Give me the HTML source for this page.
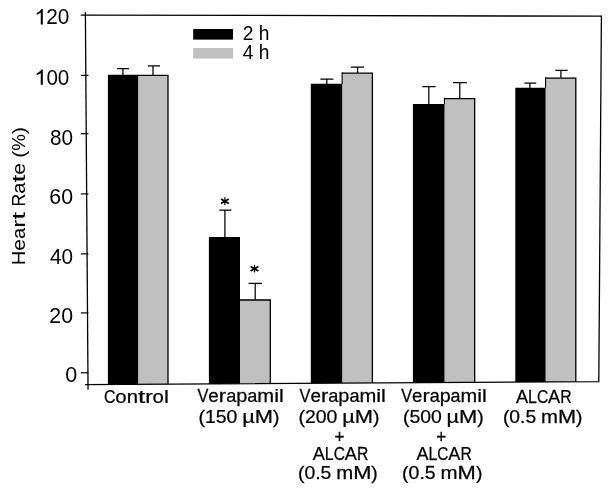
<!DOCTYPE html><html><head><meta charset="utf-8"><style>html,body{margin:0;padding:0;background:#fff;}svg{display:block;filter:grayscale(1)}text{font-family:"Liberation Sans",sans-serif;fill:#000}</style></head><body>
<svg width="611" height="493" viewBox="0 0 611 493">
<rect width="611" height="493" fill="#fff"/>
<polygon points="138.1,75.0 168.0,75.0 168.0,384.13033268101765 138.1,384.3058708414873" fill="#c0c0c0"/>
<path d="M137.79999999999998,75.3 H168.0 V384.13033268101765" stroke="#000" stroke-width="1.3" fill="none" stroke-linejoin="miter"/>
<polygon points="107.89999999999999,74.7 138.1,74.7 138.1,384.3058708414873 107.89999999999999,384.4819960861057" fill="#000"/>
<polygon points="240.0,299.7 270.3,299.7 270.3,383.5297455968689 240.0,383.7076320939335" fill="#c0c0c0"/>
<path d="M239.7,300.0 H270.3 V383.5297455968689" stroke="#000" stroke-width="1.3" fill="none" stroke-linejoin="miter"/>
<polygon points="208.9,237.0 240.0,237.0 240.0,383.7076320939335 208.9,383.88904109589043" fill="#000"/>
<polygon points="342.2,72.9 372.4,72.9 372.4,382.93033268101766 342.2,383.1076320939335" fill="#c0c0c0"/>
<path d="M341.9,73.2 H372.4 V382.93033268101766" stroke="#000" stroke-width="1.3" fill="none" stroke-linejoin="miter"/>
<polygon points="310.8,83.7 342.2,83.7 342.2,383.1076320939335 310.8,383.2908023483366" fill="#000"/>
<path d="M342.15,72.25 V84.0" stroke="#000" stroke-width="1.1" fill="none"/>
<polygon points="444.5,98.4 474.7,98.4 474.7,382.3297455968689 444.5,382.50704500978475" fill="#c0c0c0"/>
<path d="M444.2,98.7 H474.7 V382.3297455968689" stroke="#000" stroke-width="1.3" fill="none" stroke-linejoin="miter"/>
<polygon points="412.90000000000003,104.0 444.5,104.0 444.5,382.50704500978475 412.90000000000003,382.6913894324853" fill="#000"/>
<path d="M444.45,97.75 V104.3" stroke="#000" stroke-width="1.1" fill="none"/>
<polygon points="545.6,77.8 575.8,77.8 575.8,381.7362035225049 545.6,381.91350293542075" fill="#c0c0c0"/>
<path d="M545.3000000000001,78.1 H575.8 V381.7362035225049" stroke="#000" stroke-width="1.3" fill="none" stroke-linejoin="miter"/>
<polygon points="515.3,87.7 545.6,87.7 545.6,381.91350293542075 515.3,382.09021526418786" fill="#000"/>
<path d="M545.5500000000001,77.14999999999999 V88.0" stroke="#000" stroke-width="1.1" fill="none"/>
<path d="M122.9,75.0 V68.5 M117.0,68.5 H129.0" stroke="#000" stroke-width="1.25" fill="none"/>
<path d="M153.0,75.0 V65.9 M147.8,65.9 H160.0" stroke="#000" stroke-width="1.25" fill="none"/>
<path d="M224.9,237.3 V210.2 M219.3,210.2 H231.4" stroke="#000" stroke-width="1.25" fill="none"/>
<path d="M255.2,299.7 V283.4 M248.6,283.4 H261.9" stroke="#000" stroke-width="1.25" fill="none"/>
<path d="M326.8,84.0 V79.1 M320.3,79.1 H333.4" stroke="#000" stroke-width="1.25" fill="none"/>
<path d="M357.6,72.9 V67.0 M350.8,67.0 H364.1" stroke="#000" stroke-width="1.25" fill="none"/>
<path d="M428.8,104.3 V86.6 M422.3,86.6 H435.6" stroke="#000" stroke-width="1.25" fill="none"/>
<path d="M459.8,98.4 V82.7 M453.0,82.7 H466.8" stroke="#000" stroke-width="1.25" fill="none"/>
<path d="M529.9,88.0 V83.0 M524.4,83.0 H536.2" stroke="#000" stroke-width="1.25" fill="none"/>
<path d="M560.9,77.8 V70.3 M555.4,70.3 H567.6" stroke="#000" stroke-width="1.25" fill="none"/>
<path d="M80.80000000000001,15.1 L601.4,16.2 L598.8,381.6 L85.0,384.6" stroke="#000" stroke-width="1.3" fill="none"/>
<path d="M85.38000000000001,12.1 L88.04,389.8" stroke="#000" stroke-width="1.3" fill="none"/>
<path d="M80.8,75.4 H88.4" stroke="#000" stroke-width="1.2"/>
<path d="M80.8,133.7 H88.4" stroke="#000" stroke-width="1.2"/>
<path d="M80.8,193.9 H88.4" stroke="#000" stroke-width="1.2"/>
<path d="M80.8,253.9 H88.4" stroke="#000" stroke-width="1.2"/>
<path d="M80.8,312.9 H88.4" stroke="#000" stroke-width="1.2"/>
<path d="M80.8,372.8 H88.4" stroke="#000" stroke-width="1.2"/>
<path d="M763,0 H583 V1147 Q518,1085 412.5,1023 Q307,961 223,930 V1104 Q374,1175 487,1276 Q600,1377 647,1472 H763 Z" transform="translate(34.181,24.4) scale(0.01130,-0.01039)" fill="#000"/>
<text x="46.15" y="24.4" font-size="21.5" textLength="23.16" lengthAdjust="spacingAndGlyphs">20</text>
<path d="M763,0 H583 V1147 Q518,1085 412.5,1023 Q307,961 223,930 V1104 Q374,1175 487,1276 Q600,1377 647,1472 H763 Z" transform="translate(34.181,84.8) scale(0.01130,-0.01039)" fill="#000"/>
<text x="46.40" y="84.8" font-size="21.5" textLength="22.91" lengthAdjust="spacingAndGlyphs">00</text>
<text x="49.90" y="144.8" font-size="21.5" textLength="23.11" lengthAdjust="spacingAndGlyphs">80</text>
<text x="49.32" y="204.0" font-size="21.5" textLength="23.72" lengthAdjust="spacingAndGlyphs">60</text>
<text x="49.92" y="263.7" font-size="21.5" textLength="23.09" lengthAdjust="spacingAndGlyphs">40</text>
<text x="49.33" y="322.5" font-size="21.5" textLength="23.70" lengthAdjust="spacingAndGlyphs">20</text>
<text x="65.26" y="381.5" font-size="21.5" textLength="11.98" lengthAdjust="spacingAndGlyphs">0</text>
<rect x="193.2" y="29" width="39.8" height="10.6" fill="#000"/>
<rect x="193.2" y="48" width="39.8" height="10.6" fill="#c0c0c0"/>
<text x="242.63" y="40.1" font-size="19.6" textLength="26.71" lengthAdjust="spacingAndGlyphs">2 h</text>
<text x="242.66" y="59.2" font-size="19.6" textLength="26.69" lengthAdjust="spacingAndGlyphs">4 h</text>
<path d="M221.0,198.95 L228.8,203.45 M221.0,203.45 L228.8,198.95" stroke="#000" stroke-width="1.7" fill="none"/>
<path d="M224.9,197.29999999999998 V204.89999999999998" stroke="#000" stroke-width="1.2" fill="none"/>
<ellipse cx="224.9" cy="201.2" rx="2.0" ry="1.5" fill="#000"/>
<path d="M250.6,266.45 L258.4,270.95 M250.6,270.95 L258.4,266.45" stroke="#000" stroke-width="1.7" fill="none"/>
<path d="M254.5,264.8 V272.4" stroke="#000" stroke-width="1.2" fill="none"/>
<ellipse cx="254.5" cy="268.7" rx="2.0" ry="1.5" fill="#000"/>
<g font-size="18.3" stroke="#000" stroke-width="0.05" transform="translate(25.4,263.6) rotate(-90)">
<text transform="translate(-1.63,0) scale(1.1032,1)">H</text>
<text transform="translate(12.95,0) scale(1.1440,1)">e</text>
<text transform="translate(24.59,0) scale(1.1014,1)">a</text>
<text transform="translate(35.80,0) scale(1.3388,1)">r</text>
<text transform="translate(43.96,0) scale(1.5417,1)">t</text>
<text transform="translate(57.09,0) scale(0.9614,1)">R</text>
<text transform="translate(69.80,0) scale(1.1014,1)">a</text>
<text transform="translate(81.00,0) scale(1.5417,1)">t</text>
<text transform="translate(88.84,0) scale(1.1440,1)">e</text>
<text transform="translate(105.78,0) scale(1.1644,1)">(</text>
<text transform="translate(112.87,0) scale(1.0281,1)">%</text>
<text transform="translate(129.60,0) scale(1.1644,1)">)</text>
</g>
<g font-size="19.0" stroke="#000" stroke-width="0.25">
<text transform="translate(103.92,403.1) scale(0.8338,1)">C</text>
<text transform="translate(115.36,403.1) scale(1.0708,1)">o</text>
<text transform="translate(126.68,403.1) scale(1.0669,1)">n</text>
<text transform="translate(137.95,403.1) scale(1.3615,1)">t</text>
<text transform="translate(145.14,403.1) scale(1.1823,1)">r</text>
<text transform="translate(152.62,403.1) scale(1.0708,1)">o</text>
<text transform="translate(163.93,403.1) scale(1.1666,1)">l</text>
</g>
<g font-size="19.0" stroke="#000" stroke-width="0.25">
<text transform="translate(197.45,402.1) scale(0.8608,1)">V</text>
<text transform="translate(208.36,402.1) scale(0.9905,1)">e</text>
<text transform="translate(218.83,402.1) scale(1.1591,1)">r</text>
<text transform="translate(226.16,402.1) scale(0.9536,1)">a</text>
<text transform="translate(236.24,402.1) scale(1.0460,1)">p</text>
<text transform="translate(247.29,402.1) scale(0.9536,1)">a</text>
<text transform="translate(257.37,402.1) scale(1.0618,1)">m</text>
<text transform="translate(274.17,402.1) scale(1.1437,1)">i</text>
<text transform="translate(279.00,402.1) scale(1.1437,1)">l</text>
</g>
<g font-size="19.0" stroke="#000" stroke-width="0.25">
<text transform="translate(198.42,422.9) scale(1.0240,1)">(</text>
<text transform="translate(204.90,422.9) scale(1.0248,1)">1</text>
<text transform="translate(215.73,422.9) scale(1.0248,1)">5</text>
<text transform="translate(226.56,422.9) scale(1.0248,1)">0</text>
<text transform="translate(242.22,422.9) scale(1.1436,1)">µ</text>
<text transform="translate(254.73,422.9) scale(1.1542,1)">M</text>
<text transform="translate(273.00,422.9) scale(1.0240,1)">)</text>
</g>
<g font-size="19.0" stroke="#000" stroke-width="0.25">
<text transform="translate(299.55,402.0) scale(0.8608,1)">V</text>
<text transform="translate(310.46,402.0) scale(0.9905,1)">e</text>
<text transform="translate(320.93,402.0) scale(1.1591,1)">r</text>
<text transform="translate(328.26,402.0) scale(0.9536,1)">a</text>
<text transform="translate(338.34,402.0) scale(1.0460,1)">p</text>
<text transform="translate(349.39,402.0) scale(0.9536,1)">a</text>
<text transform="translate(359.47,402.0) scale(1.0618,1)">m</text>
<text transform="translate(376.27,402.0) scale(1.1437,1)">i</text>
<text transform="translate(381.10,402.0) scale(1.1437,1)">l</text>
</g>
<g font-size="19.0" stroke="#000" stroke-width="0.25">
<text transform="translate(298.42,423.3) scale(1.0240,1)">(</text>
<text transform="translate(304.90,423.3) scale(1.0248,1)">2</text>
<text transform="translate(315.73,423.3) scale(1.0248,1)">0</text>
<text transform="translate(326.56,423.3) scale(1.0248,1)">0</text>
<text transform="translate(342.22,423.3) scale(1.1436,1)">µ</text>
<text transform="translate(354.73,423.3) scale(1.1542,1)">M</text>
<text transform="translate(373.00,423.3) scale(1.0240,1)">)</text>
</g>
<g font-size="19.0" stroke="#000" stroke-width="0.25">
<text transform="translate(334.49,443.0) scale(0.9046,1)">+</text>
</g>
<g font-size="19.0" stroke="#000" stroke-width="0.25">
<text transform="translate(312.69,460.3) scale(0.9569,1)">A</text>
<text transform="translate(324.82,460.3) scale(0.8338,1)">L</text>
<text transform="translate(333.63,460.3) scale(0.8144,1)">C</text>
<text transform="translate(344.80,460.3) scale(0.9569,1)">A</text>
<text transform="translate(356.93,460.3) scale(0.8293,1)">R</text>
</g>
<g font-size="19.0" stroke="#000" stroke-width="0.25">
<text transform="translate(297.92,479.1) scale(1.0198,1)">(</text>
<text transform="translate(304.38,479.1) scale(1.0207,1)">0</text>
<text transform="translate(315.16,479.1) scale(1.0177,1)">.</text>
<text transform="translate(320.53,479.1) scale(1.0207,1)">5</text>
<text transform="translate(336.13,479.1) scale(1.0741,1)">m</text>
<text transform="translate(353.13,479.1) scale(1.1496,1)">M</text>
<text transform="translate(371.32,479.1) scale(1.0198,1)">)</text>
</g>
<g font-size="19.0" stroke="#000" stroke-width="0.25">
<text transform="translate(401.25,402.0) scale(0.8527,1)">V</text>
<text transform="translate(412.06,402.0) scale(0.9812,1)">e</text>
<text transform="translate(422.43,402.0) scale(1.1482,1)">r</text>
<text transform="translate(429.69,402.0) scale(0.9446,1)">a</text>
<text transform="translate(439.67,402.0) scale(1.0361,1)">p</text>
<text transform="translate(450.62,402.0) scale(0.9446,1)">a</text>
<text transform="translate(460.60,402.0) scale(1.0518,1)">m</text>
<text transform="translate(477.25,402.0) scale(1.1329,1)">i</text>
<text transform="translate(482.03,402.0) scale(1.1329,1)">l</text>
</g>
<g font-size="19.0" stroke="#000" stroke-width="0.25">
<text transform="translate(402.92,423.3) scale(1.0201,1)">(</text>
<text transform="translate(409.38,423.3) scale(1.0209,1)">5</text>
<text transform="translate(420.17,423.3) scale(1.0209,1)">0</text>
<text transform="translate(430.95,423.3) scale(1.0209,1)">0</text>
<text transform="translate(446.55,423.3) scale(1.1392,1)">µ</text>
<text transform="translate(459.02,423.3) scale(1.1498,1)">M</text>
<text transform="translate(477.22,423.3) scale(1.0201,1)">)</text>
</g>
<g font-size="19.0" stroke="#000" stroke-width="0.25">
<text transform="translate(436.19,443.0) scale(0.9046,1)">+</text>
</g>
<g font-size="19.0" stroke="#000" stroke-width="0.25">
<text transform="translate(416.39,460.3) scale(0.9516,1)">A</text>
<text transform="translate(428.45,460.3) scale(0.8292,1)">L</text>
<text transform="translate(437.21,460.3) scale(0.8099,1)">C</text>
<text transform="translate(448.33,460.3) scale(0.9516,1)">A</text>
<text transform="translate(460.39,460.3) scale(0.8248,1)">R</text>
</g>
<g font-size="19.0" stroke="#000" stroke-width="0.25">
<text transform="translate(402.12,479.1) scale(1.0251,1)">(</text>
<text transform="translate(408.60,479.1) scale(1.0260,1)">0</text>
<text transform="translate(419.44,479.1) scale(1.0229,1)">.</text>
<text transform="translate(424.84,479.1) scale(1.0260,1)">5</text>
<text transform="translate(440.52,479.1) scale(1.0796,1)">m</text>
<text transform="translate(457.61,479.1) scale(1.1555,1)">M</text>
<text transform="translate(475.90,479.1) scale(1.0251,1)">)</text>
</g>
<g font-size="19.0" stroke="#000" stroke-width="0.25">
<text transform="translate(515.89,402.5) scale(0.9603,1)">A</text>
<text transform="translate(528.06,402.5) scale(0.8368,1)">L</text>
<text transform="translate(536.90,402.5) scale(0.8174,1)">C</text>
<text transform="translate(548.12,402.5) scale(0.9603,1)">A</text>
<text transform="translate(560.29,402.5) scale(0.8323,1)">R</text>
</g>
<g font-size="19.0" stroke="#000" stroke-width="0.25">
<text transform="translate(502.93,423.3) scale(1.0159,1)">(</text>
<text transform="translate(509.36,423.3) scale(1.0167,1)">0</text>
<text transform="translate(520.10,423.3) scale(1.0137,1)">.</text>
<text transform="translate(525.45,423.3) scale(1.0167,1)">5</text>
<text transform="translate(540.99,423.3) scale(1.0699,1)">m</text>
<text transform="translate(557.92,423.3) scale(1.1451,1)">M</text>
<text transform="translate(576.04,423.3) scale(1.0159,1)">)</text>
</g>
</svg></body></html>
